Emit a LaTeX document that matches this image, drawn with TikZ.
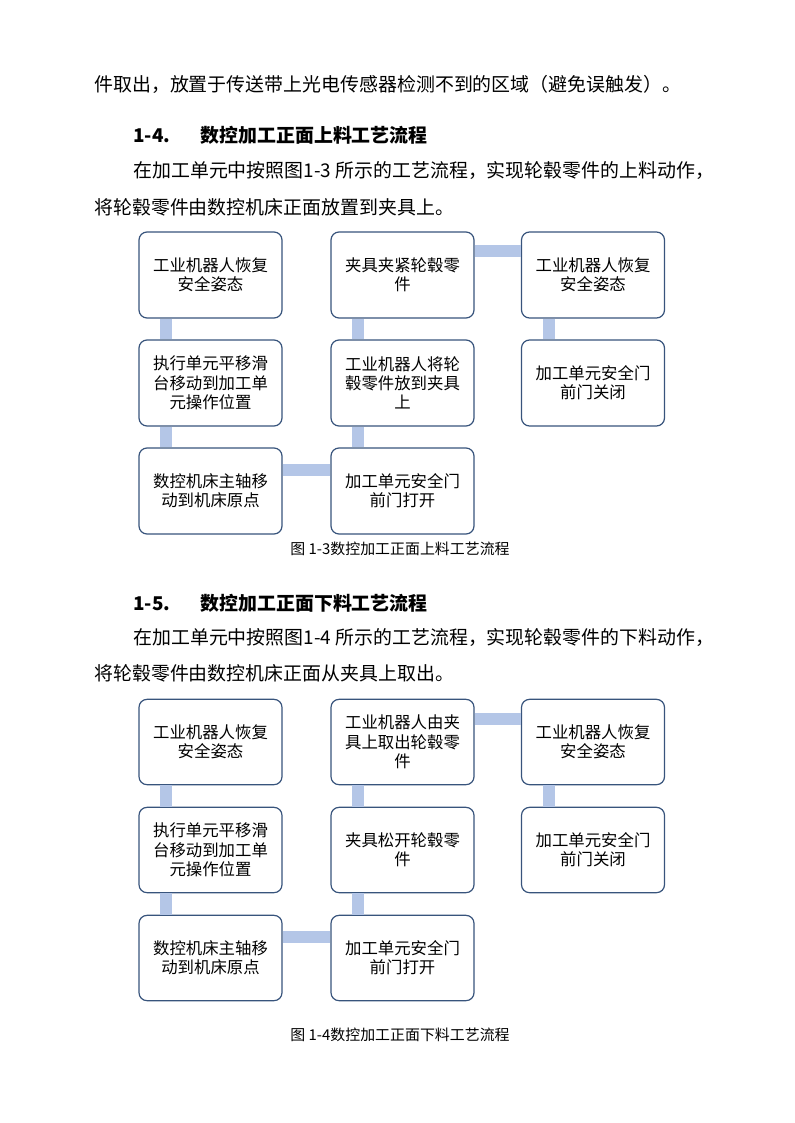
\documentclass[tikz,border=0pt]{standalone}
\usepackage{fontspec}
\setmainfont{Noto Sans CJK SC}
\begin{document}
\begin{tikzpicture}[x=0.75pt,y=-0.75pt,
  box/.style={draw=boxline,line width=0.9pt,rounded corners=6pt,fill=white,minimum width=107.25pt,align=center,font=\fontsize{12.3}{14.5}\selectfont},
  link/.style={draw=linkc,line width=9pt},
  body/.style={anchor=west,inner sep=0pt,font=\fontsize{14.2}{16}\selectfont},
  head/.style={anchor=west,inner sep=0pt,font=\fontsize{14.2}{16}\selectfont\bfseries},
  captext/.style={inner sep=0pt,font=\fontsize{11.2}{13}\selectfont}]
\definecolor{boxline}{RGB}{56,84,124}
\definecolor{linkc}{RGB}{180,198,231}
\useasboundingbox (0,0) rectangle (794,1123);
\node[body] (t0) at (94,84) {件取出，放置于传送带上光电传感器检测不到的区域（避免误触发）。};
\node[head] (h1) at (133,135) {1-4.\hspace{1.6em}数控加工正面上料工艺流程};
\node[body] (t1) at (133,170) {在加工单元中按照图1-3 所示的工艺流程，实现轮毂零件的上料动作，};
\node[body] (t2) at (94,207) {将轮毂零件由数控机床正面放置到夹具上。};
\foreach \p/\oy in {a/0,b/467}{
  \coordinate (\p11) at (210.5,275+\oy);
  \coordinate (\p21) at (210.5,383+\oy);
  \coordinate (\p31) at (210.5,491+\oy);
  \coordinate (\p12) at (402.5,275+\oy);
  \coordinate (\p22) at (402.5,383+\oy);
  \coordinate (\p32) at (402.5,491+\oy);
  \coordinate (\p13) at (593,275+\oy);
  \coordinate (\p23) at (593,383+\oy);
}
\node[box,minimum height=64.5pt] (A1) at (a11) {工业机器人恢复\\安全姿态};
\node[box,minimum height=64.5pt] (A2) at (a21) {执行单元平移滑\\台移动到加工单\\元操作位置};
\node[box,minimum height=64.5pt] (A3) at (a31) {数控机床主轴移\\动到机床原点};
\node[box,minimum height=64.5pt] (A4) at (a32) {加工单元安全门\\前门打开};
\node[box,minimum height=64.5pt] (A5) at (a22) {工业机器人将轮\\毂零件放到夹具\\上};
\node[box,minimum height=64.5pt] (A6) at (a12) {夹具夹紧轮毂零\\件};
\node[box,minimum height=64.5pt] (A7) at (a13) {工业机器人恢复\\安全姿态};
\node[box,minimum height=64.5pt] (A8) at (a23) {加工单元安全门\\前门关闭};
\node[box,minimum height=64pt] (B1) at (b11) {工业机器人恢复\\安全姿态};
\node[box,minimum height=64pt] (B2) at (b21) {执行单元平移滑\\台移动到加工单\\元操作位置};
\node[box,minimum height=64pt] (B3) at (b31) {数控机床主轴移\\动到机床原点};
\node[box,minimum height=64pt] (B4) at (b32) {加工单元安全门\\前门打开};
\node[box,minimum height=64pt] (B5) at (b22) {夹具松开轮毂零\\件};
\node[box,minimum height=64pt] (B6) at (b12) {工业机器人由夹\\具上取出轮毂零\\件};
\node[box,minimum height=64pt] (B7) at (b13) {工业机器人恢复\\安全姿态};
\node[box,minimum height=64pt] (B8) at (b23) {加工单元安全门\\前门关闭};
\foreach \P in {A,B}{
  \draw[link] ([xshift=21pt]\P1.south west) -- ([xshift=21pt]\P2.north west);
  \draw[link] ([xshift=21pt]\P2.south west) -- ([xshift=21pt]\P3.north west);
  \draw[link] ([yshift=-17pt]\P3.north east) -- ([yshift=-17pt]\P4.north west);
  \draw[link] ([xshift=21pt]\P4.north west) -- ([xshift=21pt]\P5.south west);
  \draw[link] ([xshift=21pt]\P5.north west) -- ([xshift=21pt]\P6.south west);
  \draw[link] ([yshift=-15pt]\P6.north east) -- ([yshift=-15pt]\P7.north west);
  \draw[link] ([xshift=21pt]\P7.south west) -- ([xshift=21pt]\P8.north west);
}
\node[captext] (c1) at (400,549) {图 1-3数控加工正面上料工艺流程};
\node[head] (h2) at (133,603) {1-5.\hspace{1.6em}数控加工正面下料工艺流程};
\node[body] (t3) at (133,637) {在加工单元中按照图1-4 所示的工艺流程，实现轮毂零件的下料动作，};
\node[body] (t4) at (94,673) {将轮毂零件由数控机床正面从夹具上取出。};
\node[captext] (c2) at (400,1035) {图 1-4数控加工正面下料工艺流程};
\end{tikzpicture}
\end{document}
